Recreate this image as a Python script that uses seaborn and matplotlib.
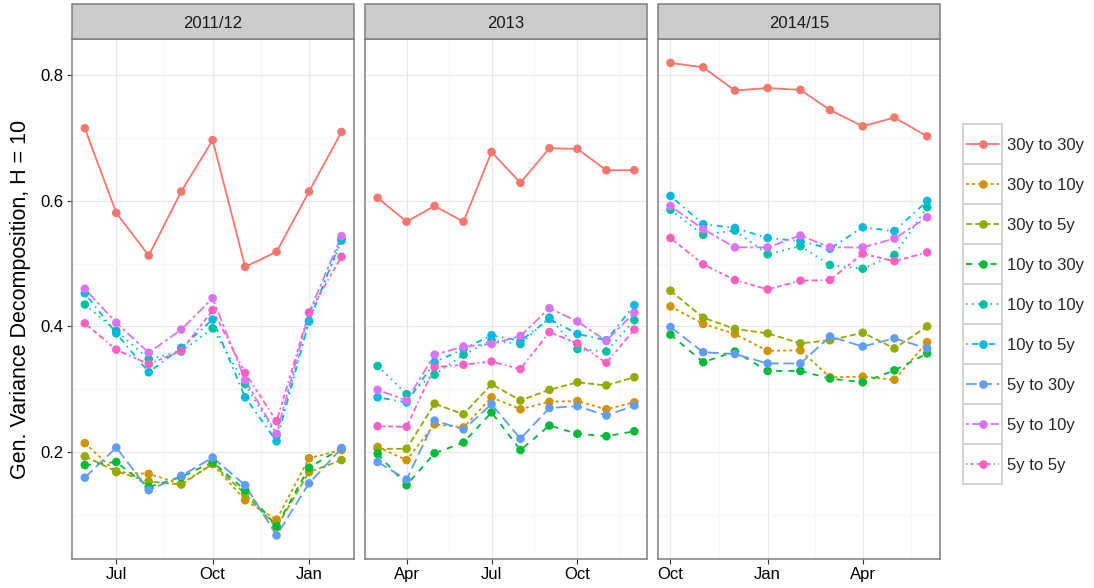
import matplotlib
matplotlib.use("Agg")
import numpy as np
import pandas as pd
import matplotlib.pyplot as plt
import matplotlib.dates as mdates
from matplotlib.ticker import FixedLocator, NullFormatter
from matplotlib.patches import Rectangle
from matplotlib.lines import Line2D
from matplotlib.legend_handler import HandlerBase
import seaborn as sns

# ---------------- data ----------------
periods = ["2011/12", "2013", "2014/15"]
months_2011 = ["2011-06", "2011-07", "2011-08", "2011-09", "2011-10",
               "2011-11", "2011-12", "2012-01", "2012-02"]
months_2013 = ["2013-03", "2013-04", "2013-05", "2013-06", "2013-07",
               "2013-08", "2013-09", "2013-10", "2013-11", "2013-12"]
months_2014 = ["2014-10", "2014-11", "2014-12", "2015-01", "2015-02",
               "2015-03", "2015-04", "2015-05", "2015-06"]

series_names = ["30y to 30y", "30y to 10y", "30y to 5y",
                "10y to 30y", "10y to 10y", "10y to 5y",
                "5y to 30y", "5y to 10y", "5y to 5y"]

# values: 2011/12 (9) | 2013 (10) | 2014/15 (9)
s30_30 = [0.716, 0.581, 0.513, 0.615, 0.697, 0.495, 0.519, 0.615, 0.710,
          0.605, 0.567, 0.592, 0.567, 0.678, 0.629, 0.684, 0.683, 0.649, 0.649,
          0.820, 0.813, 0.776, 0.780, 0.777, 0.745, 0.719, 0.733, 0.703]
s30_10 = [0.214, 0.168, 0.165, 0.149, 0.181, 0.123, 0.092, 0.190, 0.203,
          0.208, 0.187, 0.244, 0.239, 0.287, 0.268, 0.280, 0.281, 0.268, 0.279,
          0.432, 0.404, 0.388, 0.361, 0.362, 0.319, 0.320, 0.315, 0.375]
s30_5 = [0.193, 0.169, 0.153, 0.148, 0.181, 0.133, 0.080, 0.168, 0.187,
         0.205, 0.205, 0.277, 0.260, 0.308, 0.282, 0.299, 0.311, 0.306, 0.319,
         0.457, 0.414, 0.396, 0.389, 0.373, 0.378, 0.390, 0.365, 0.400]
s10_30 = [0.179, 0.184, 0.144, 0.160, 0.184, 0.139, 0.082, 0.175, 0.206,
          0.197, 0.147, 0.198, 0.215, 0.263, 0.203, 0.242, 0.229, 0.225, 0.233,
          0.387, 0.343, 0.360, 0.329, 0.329, 0.317, 0.311, 0.330, 0.357]
s10_10 = [0.435, 0.393, 0.348, 0.360, 0.397, 0.308, 0.226, 0.409, 0.537,
          0.337, 0.292, 0.323, 0.355, 0.378, 0.372, 0.414, 0.364, 0.360, 0.410,
          0.586, 0.546, 0.553, 0.515, 0.528, 0.498, 0.492, 0.514, 0.590]
s10_5 = [0.453, 0.389, 0.327, 0.366, 0.411, 0.287, 0.217, 0.408, 0.540,
         0.287, 0.279, 0.343, 0.364, 0.386, 0.377, 0.412, 0.388, 0.378, 0.434,
         0.608, 0.563, 0.557, 0.541, 0.536, 0.524, 0.558, 0.552, 0.600]
s5_30 = [0.159, 0.207, 0.139, 0.162, 0.191, 0.147, 0.067, 0.150, 0.206,
         0.184, 0.156, 0.250, 0.236, 0.276, 0.221, 0.270, 0.273, 0.258, 0.274,
         0.399, 0.359, 0.356, 0.341, 0.341, 0.384, 0.368, 0.381, 0.365]
s5_10 = [0.460, 0.406, 0.358, 0.395, 0.445, 0.314, 0.229, 0.422, 0.544,
         0.299, 0.282, 0.355, 0.368, 0.372, 0.385, 0.429, 0.408, 0.377, 0.422,
         0.592, 0.555, 0.526, 0.526, 0.545, 0.526, 0.526, 0.540, 0.574]
s5_5 = [0.405, 0.363, 0.340, 0.361, 0.426, 0.326, 0.249, 0.422, 0.511,
        0.241, 0.240, 0.335, 0.339, 0.344, 0.332, 0.391, 0.373, 0.342, 0.395,
        0.541, 0.499, 0.474, 0.459, 0.473, 0.474, 0.516, 0.504, 0.518]

series_values = [s30_30, s30_10, s30_5, s10_30, s10_10, s10_5, s5_30, s5_10, s5_5]

colors = ["#F8766D", "#D39200", "#93AA00", "#00BA38", "#00C19F",
          "#00B9E3", "#619CFF", "#DB72FB", "#FF61C3"]
linetypes = ["", (2, 2), (4, 2), (4, 4), (1, 3), (1, 3, 4, 3), (7, 3),
             (2, 2, 6, 2), (1, 2, 2, 2, 3, 2, 4, 2)]

# ---------------- tidy frame ----------------
all_months = months_2011 + months_2013 + months_2014
all_periods = ([periods[0]] * len(months_2011) + [periods[1]] * len(months_2013)
               + [periods[2]] * len(months_2014))
rows = []
for name, vals in zip(series_names, series_values):
    for m, p, v in zip(all_months, all_periods, vals):
        rows.append({"date": pd.Timestamp(m + "-01"), "period": p,
                     "series": name, "value": v})
df = pd.DataFrame(rows)

# ---------------- style ----------------
sns.set_theme(style="white")
plt.rcParams["font.family"] = ["Liberation Sans", "DejaVu Sans"]

W, H = 1094, 588
fig = plt.figure(figsize=(W / 100, H / 100), dpi=100)
axes = fig.subplots(1, 3, sharey=True)
fig.subplots_adjust(left=72 / W, right=940 / W, bottom=1 - 559 / H,
                    top=1 - 39.3 / H, wspace=0.037)

LW = 1.3
DSCALE = 0.85  # ggplot linetype units relative to line width
dash_list = [tuple(v * DSCALE for v in d) if d else "" for d in linetypes]
palette = dict(zip(series_names, colors))
dash_map = dict(zip(series_names, dash_list))

for ax, per in zip(axes, periods):
    sub = df[df["period"] == per]
    sns.lineplot(data=sub, x="date", y="value", hue="series", style="series",
                 hue_order=series_names, style_order=series_names,
                 palette=palette, dashes=dash_map, linewidth=LW,
                 errorbar=None, legend=False, ax=ax)
    sns.scatterplot(data=sub, x="date", y="value", hue="series",
                    hue_order=series_names, palette=palette, s=38,
                    linewidth=0, legend=False, ax=ax, zorder=3)

for i, (ax, per) in enumerate(zip(axes, periods)):
    xmin, xmax = ax.get_xlim()
    loc = mdates.MonthLocator(bymonth=[1, 4, 7, 10])
    maj = [t for t in loc.tick_values(mdates.num2date(xmin), mdates.num2date(xmax))
           if xmin <= t <= xmax]
    minor = [(a + b) / 2 for a, b in zip(maj[:-1], maj[1:])]
    if len(maj) > 1:
        step = maj[1] - maj[0]
        minor = [maj[0] - step / 2] + minor + [maj[-1] + step / 2]
    ax.xaxis.set_major_locator(FixedLocator(maj))
    ax.xaxis.set_major_formatter(mdates.DateFormatter("%b"))
    ax.xaxis.set_minor_locator(FixedLocator(minor))
    ax.xaxis.set_minor_formatter(NullFormatter())
    ax.set_xlim(xmin, xmax)

    ax.yaxis.set_major_locator(FixedLocator([0.2, 0.4, 0.6, 0.8]))
    ax.yaxis.set_minor_locator(FixedLocator([0.1, 0.3, 0.5, 0.7, 0.9]))

    ax.set_axisbelow(True)
    ax.grid(which="major", color="#E8E8E8", linewidth=0.9)
    ax.grid(which="minor", color="#F7F7F7", linewidth=0.9)

    ax.set_xlabel("")
    ax.set_ylabel("")
    ax.tick_params(axis="both", which="major", direction="out", length=3.6,
                   width=0.8, color="#333333", labelsize=12, labelcolor="black",
                   pad=2.5)
    ax.tick_params(axis="both", which="minor", length=0)
    ax.tick_params(axis="x", bottom=True, top=False)
    if i == 0:
        ax.tick_params(axis="y", left=True, right=False)
    else:
        ax.tick_params(axis="y", which="both", left=False, labelleft=False)

    for sp in ax.spines.values():
        sp.set_visible(True)
        sp.set_color("#7F7F7F")
        sp.set_linewidth(1.1)

    strip_h = 35 / (559 - 39.3)
    ax.add_patch(Rectangle((0, 1), 1, strip_h, transform=ax.transAxes,
                           clip_on=False, facecolor="#CCCCCC",
                           edgecolor="#7F7F7F", linewidth=1.1, zorder=5))
    ax.text(0.5, 1 + strip_h / 2, per, transform=ax.transAxes, ha="center",
            va="center_baseline", fontsize=12, color="#1A1A1A", zorder=6)

fig.text(21 / W, 1 - 299 / H, "Gen. Variance Decomposition, H = 10",
         rotation=90, ha="center", va="center", fontsize=15.5, color="black")


# ---------------- legend with boxed keys ----------------
class BoxedKey(HandlerBase):
    def create_artists(self, legend, orig, xdescent, ydescent, width, height,
                       fontsize, trans):
        cy = 0.36 * fontsize
        rect = Rectangle((-xdescent, cy - height / 2), width, height,
                         facecolor="white", edgecolor="#D0D0D0", linewidth=1.3,
                         transform=trans)
        x0 = -xdescent + 0.08 * width
        x1 = -xdescent + 0.92 * width
        line = Line2D([x0, x1], [cy, cy], color=orig.get_color(),
                      linewidth=LW, transform=trans)
        d = getattr(orig, "key_dashes", "")
        if d:
            line.set_dashes(d)
        dot = Line2D([(x0 + x1) / 2], [cy], marker="o", markersize=6.2,
                     markeredgewidth=0, color=orig.get_color(), linestyle="none",
                     transform=trans)
        return [rect, line, dot]


handles = []
for name, c, d in zip(series_names, colors, dash_list):
    h = Line2D([], [], color=c)
    h.key_dashes = d
    handles.append(h)

fig.legend(handles, series_names, loc="upper left",
           bbox_to_anchor=(963 / W, 1 - 125.2 / H), bbox_transform=fig.transFigure,
           frameon=False, borderpad=0, borderaxespad=0, handlelength=2.34,
           handleheight=3.315, handletextpad=0.3, labelspacing=0, fontsize=12,
           handler_map={Line2D: BoxedKey()})

fig.savefig("out.png", dpi=100)
